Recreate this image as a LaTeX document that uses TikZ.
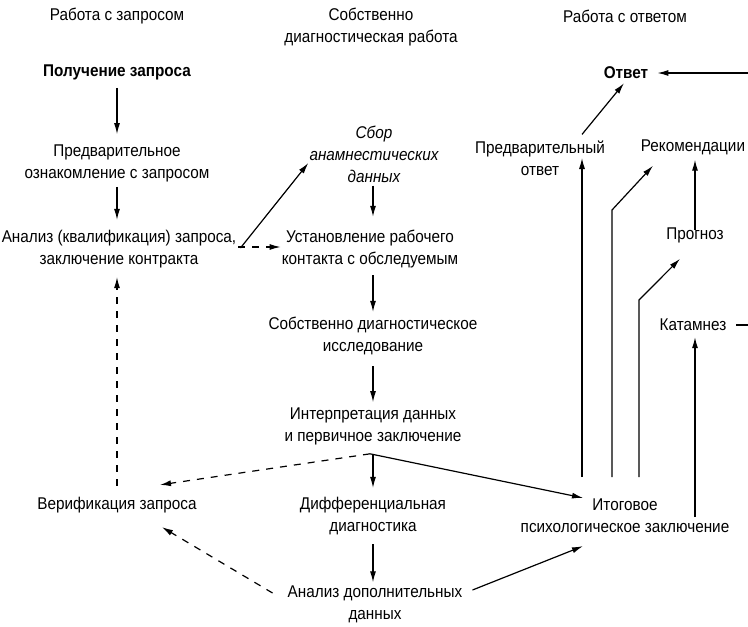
\documentclass[tikz,border=0pt]{standalone}
\usepackage{fontspec}
\setmainfont{Liberation Sans}[FakeStretch=0.9]
\usetikzlibrary{arrows.meta}
\begin{document}
\begin{tikzpicture}[x=1pt,y=-1pt,
  every node/.style={font=\fontsize{17}{22}\selectfont, align=center, inner sep=1pt},
  arr/.style={-{Latex[length=11pt,width=6pt]}, line width=1.2pt},
  darr/.style={arr, dash pattern=on 7pt off 7pt}]
\useasboundingbox (0,0) rectangle (748,627);

% headers
\node (h1) at (117,16) {Работа с запросом};
\node (h2) at (371,27) {Собственно\\диагностическая работа};
\node (h3) at (625,16) {Работа с ответом};

% left column
\node[font=\fontsize{17}{22}\selectfont\bfseries] (poluch) at (117,72) {Получение запроса};
\node (predoz) at (117,163) {Предварительное\\ознакомление с запросом};
\node (analiz) at (119,249) {Анализ (квалификация) запроса,\\заключение контракта};
\node (verif) at (117,505) {Верификация запроса};

% middle column
\node[font=\fontsize{17}{22}\selectfont\itshape] (sbor) at (374,154) {Сбор\\анамнестических\\данных};
\node (ustan) at (370,249) {Установление рабочего\\контакта с обследуемым};
\node (sobst) at (373,336) {Собственно диагностическое\\исследование};
\node (interp) at (373,426) {Интерпретация данных\\и первичное заключение};
\node (diff) at (373,516) {Дифференциальная\\диагностика};
\node (anal) at (375,604) {Анализ дополнительных\\данных};

% right column
\node[font=\fontsize{17}{22}\selectfont\bfseries] (otvet) at (626,73) {Ответ};
\node (predotv) at (540,158) {Предварительный\\ответ};
\node (rekom) at (693,147) {Рекомендации};
\node (prog) at (695,235) {Прогноз};
\node (katam) at (693,325) {Катамнез};
\node (itog) at (625,516) {Итоговое\\психологическое заключение};

% left column arrows
\draw[arr, shorten <=7pt, shorten >=9pt] (poluch.south) -- (poluch.south |- predoz.north);
\draw[arr, shorten <=4pt, shorten >=9pt] (predoz.south) -- (predoz.south |- analiz.north);
\draw[darr, shorten <=10pt, shorten >=8pt] (verif.north) -- (verif.north |- analiz.south);

% middle column arrows
\coordinate (mx) at (373,0);
\draw[arr, shorten <=2pt, shorten >=12pt] (mx |- sbor.south) -- (mx |- ustan.north);
\draw[arr, shorten <=6pt, shorten >=4pt] (mx |- ustan.south) -- (mx |- sobst.north);
\draw[arr, shorten <=10pt, shorten >=4pt] (mx |- sobst.south) -- (mx |- interp.north);
\draw[arr, shorten <=8pt, shorten >=8pt] (mx |- interp.south) -- (mx |- diff.north);
\draw[arr, shorten <=8pt, shorten >=2pt] (mx |- diff.south) -- (mx |- anal.north);

% cross connections
\draw[arr] ([xshift=3pt,yshift=1pt]analiz.east) -- ([yshift=-9pt]sbor.west);
\draw[darr] ([xshift=1pt,yshift=2pt]analiz.east) -- ([yshift=2pt]ustan.west);
\draw[darr] ([xshift=-3pt,yshift=-8pt]interp.south) -- ([xshift=43pt,yshift=11pt]verif.north);
\draw[arr] ([xshift=-3pt,yshift=-8pt]interp.south) -- ([xshift=-42pt]itog.north);
\draw[darr] ([xshift=-14pt,yshift=11pt]anal.west) -- ([xshift=45pt,yshift=-13pt]verif.south);
\draw[arr] ([xshift=9pt,yshift=14pt]anal.east) -- ([xshift=-42pt,yshift=-12pt]itog.south);

% right column
\draw[arr] ([xshift=42pt,yshift=5pt]predotv.north) -- ([xshift=-2pt,yshift=-3pt]otvet.south);
\coordinate (kR) at (775,325);
\draw[arr, shorten >=8pt] ([xshift=9pt]katam.east) -- (kR) |- (otvet.east);
\coordinate (i1) at (582,477);
\coordinate (i2) at (612,477);
\coordinate (i2b) at (612,210);
\coordinate (i3) at (639,477);
\coordinate (i3b) at (639,300);
\coordinate (i4) at (695,517);
\draw[arr] (i1) -- (i1 |- predotv);
\draw[arr] (i2) -- (i2b) -- ([xshift=-40pt,yshift=-10pt]rekom.south);
\draw[arr] (i3) -- (i3b) -- ([xshift=-15pt,yshift=-15pt]prog.south);
\draw[arr, shorten >=5pt] (i4) -- (i4 |- katam.south);
\draw[arr, shorten <=-4pt, shorten >=4pt] (prog.north) -- (prog.north |- rekom.south);
\end{tikzpicture}
\end{document}
